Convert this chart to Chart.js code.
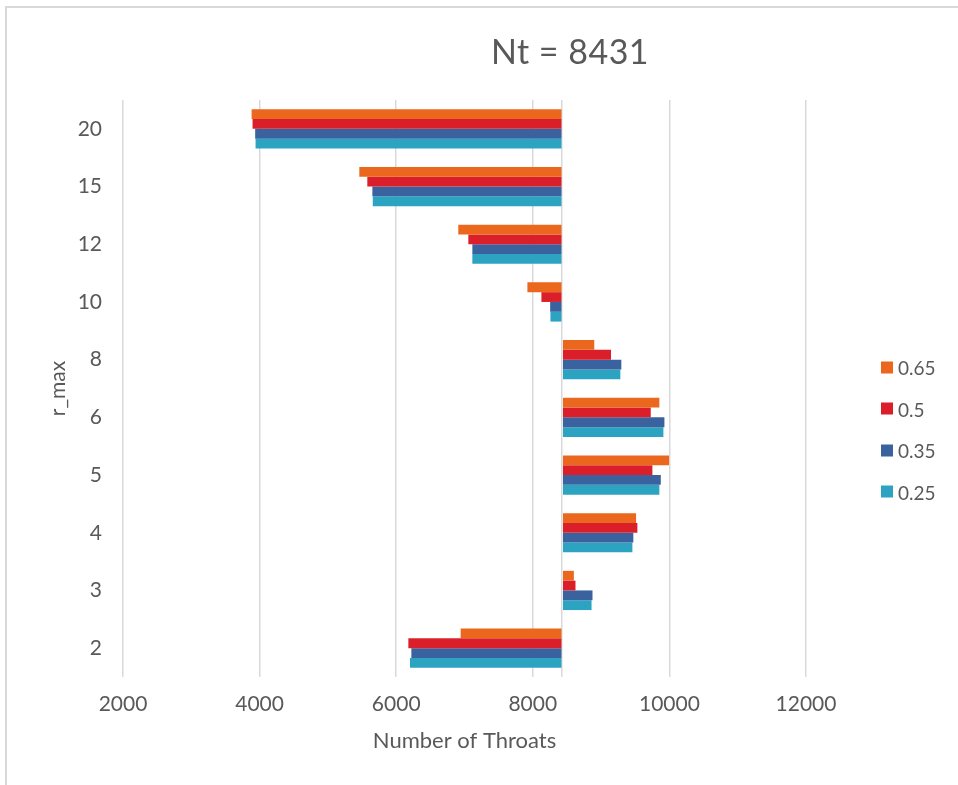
<!DOCTYPE html>
<html>
<head>
<meta charset="utf-8">
<script src="https://cdn.jsdelivr.net/npm/chart.js@4/dist/chart.umd.min.js"></script>
<style>
  html, body { margin: 0; padding: 0; background: #fff; overflow: hidden; }
  #wrap { position: relative; width: 958px; height: 785px; overflow: hidden; }
  #frame { position: absolute; left: 5px; top: 6px; width: 2000px; height: 2000px;
           border-left: 2px solid #d9d9d9; border-top: 2px solid #d9d9d9; }
  #chart { position: absolute; left: 0; top: 0; }
  #title { position: absolute; left: 570px; top: 50px; transform: translate(-50%, -50%);
           font: 34px Lato, sans-serif; color: #595959; white-space: nowrap; letter-spacing: 0.5px; }
  #legend { position: absolute; left: 881px; top: 0; font: 19px Lato, sans-serif; color: #595959; }
  #legend .item { position: absolute; left: 0; display: flex; align-items: center; white-space: nowrap;
                  transform: translateY(-50%); }
  #legend .box { width: 12px; height: 12px; margin-right: 5px; }
</style>
</head>
<body>
<div id="wrap">
  <div id="frame"></div>
  <canvas id="chart" width="958" height="785"></canvas>
  <div id="title"></div>
  <div id="legend"></div>
</div>
<script>
// Total throat count: every bar starts from this value
const NT = 8431;
const TITLE = 'Nt = ' + NT;

// r_max categories, bottom to top
const rMax = ['2', '3', '4', '5', '6', '8', '10', '12', '15', '20'];

// Number of throats for each threshold
const series065 = [6944, 8601, 9512, 9995, 9853, 8900, 7921, 6909, 5460, 3883];
const series05  = [6178, 8625, 9531, 9751, 9727, 9145, 8126, 7056, 5577, 3897];
const series035 = [6222, 8874, 9472, 9874, 9927, 9296, 8254, 7115, 5651, 3935];
const series025 = [6202, 8860, 9458, 9853, 9912, 9282, 8258, 7115, 5657, 3941];

const seriesNames = ['0.65', '0.5', '0.35', '0.25'];
const xTicks = [2000, 4000, 6000, 8000, 10000, 12000];

const colors = ['#EA671D', '#DB1F2A', '#3A629E', '#2CA3C1'];
const FONT = 'Lato, sans-serif';
const GREY = '#595959';

const datasets = [series065, series05, series035, series025].map((data, i) => ({
  label: seriesNames[i],
  data: data,
  base: NT,
  backgroundColor: colors[i],
  borderWidth: 0,
  categoryPercentage: 0.68,
  barPercentage: 1.0
}));

const chart = new Chart(document.getElementById('chart'), {
  type: 'bar',
  data: { labels: rMax, datasets: datasets },
  options: {
    indexAxis: 'y',
    responsive: false,
    animation: false,
    devicePixelRatio: 1,
    layout: { padding: { top: 100, right: 152, bottom: 0, left: 0 } },
    plugins: {
      legend: { display: false },
      title: { display: false },
      tooltip: { enabled: false }
    },
    scales: {
      x: {
        type: 'linear',
        min: xTicks[0],
        max: xTicks[xTicks.length - 1],
        afterBuildTicks: (scale) => {
          // regular ticks plus a line where the bars start
          const t = xTicks.map(v => ({ value: v }));
          t.push({ value: NT });
          t.sort((a, b) => a.value - b.value);
          scale.ticks = t;
        },
        afterFit: (scale) => { scale.height = 108; },
        grid: { color: '#d9d9d9', lineWidth: 1.5, drawTicks: false },
        border: { display: false },
        ticks: {
          autoSkip: false,
          padding: 15,
          color: GREY,
          font: { family: FONT, size: 21 },
          callback: (v) => (v === NT ? '' : String(v))
        },
        title: {
          display: true,
          text: 'Number of Throats',
          color: GREY,
          font: { family: FONT, size: 22 },
          padding: { top: 0, bottom: 31 }
        }
      },
      y: {
        type: 'category',
        reverse: true,
        afterFit: (scale) => { scale.width = 123; },
        grid: { display: false, drawTicks: false },
        border: { display: false },
        ticks: {
          padding: 21,
          color: GREY,
          font: { family: FONT, size: 21 }
        },
        title: {
          display: true,
          text: 'r_max',
          color: GREY,
          font: { family: FONT, size: 21 },
          padding: { top: 46, bottom: 0 }
        }
      }
    }
  }
});

// Title and legend
document.getElementById('title').textContent = TITLE;
const legendEl = document.getElementById('legend');
const legendY = [367, 408.5, 450, 491.5];
chart.data.datasets.forEach((ds, i) => {
  const item = document.createElement('div');
  item.className = 'item';
  item.style.top = legendY[i] + 'px';
  const box = document.createElement('span');
  box.className = 'box';
  box.style.background = ds.backgroundColor;
  const txt = document.createElement('span');
  txt.textContent = ds.label;
  item.appendChild(box);
  item.appendChild(txt);
  legendEl.appendChild(item);
});
</script>
</body>
</html>
